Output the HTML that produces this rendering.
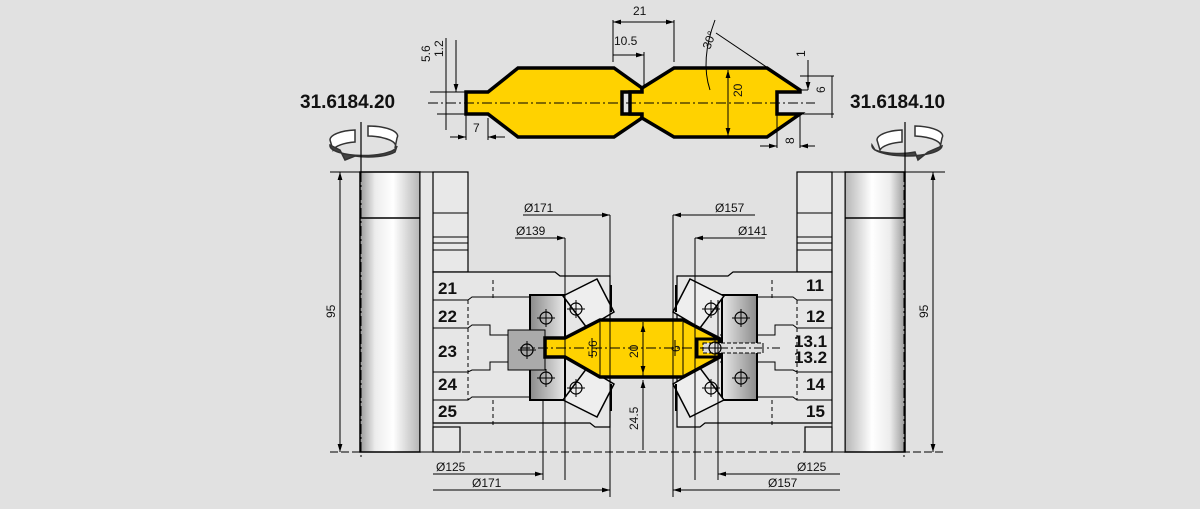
<!DOCTYPE html>
<html><head><meta charset="utf-8"><style>
body{margin:0;background:#e1e1e1}
svg{display:block}
text{font-family:"Liberation Sans",sans-serif;fill:#111}
</style></head><body>
<svg width="1200" height="509" viewBox="0 0 1200 509" xmlns="http://www.w3.org/2000/svg">
<defs>
<linearGradient id="cyl" x1="0" x2="1" y1="0" y2="0">
<stop offset="0" stop-color="#9a9a9a"/><stop offset="0.25" stop-color="#ececec"/><stop offset="0.55" stop-color="#ffffff"/><stop offset="1" stop-color="#b5b5b5"/>
</linearGradient>
<linearGradient id="kn" x1="0" x2="1"><stop offset="0" stop-color="#8a8a8a"/><stop offset="1" stop-color="#e8e8e8"/></linearGradient>
<marker id="a" viewBox="0 0 10 6" refX="10" refY="3" markerWidth="8" markerHeight="5" orient="auto-start-reverse"><path d="M0,0L10,3L0,6z" fill="#000"/></marker>
<g id="cross"><circle r="6" fill="none" stroke="#000" stroke-width="1.2"/><path d="M-9,0H9M0,-9V9" stroke="#000" stroke-width="1"/></g>
<g id="cylhub">
 <rect x="360" y="172" width="60" height="280" fill="url(#cyl)" stroke="#000" stroke-width="1.5"/>
 <line x1="360" y1="218" x2="420" y2="218" stroke="#000" stroke-width="1.5"/>
 <rect x="420" y="172" width="13" height="280" fill="#e6e6e6" stroke="#000" stroke-width="1"/>
 <rect x="433" y="172" width="35" height="100" fill="#e8e8e8" stroke="#000" stroke-width="1.2"/>
 <path d="M433,213H468M433,237H468M433,243H468M433,250H468" stroke="#000" stroke-width="1"/>
 <rect x="433" y="427" width="27" height="25" fill="#e6e6e6" stroke="#000" stroke-width="1.2"/>
</g>
<g id="inner">
 <path d="M433,300H468L472,297H545M433,328H468L472,325H490V335H545M433,372H468L472,370H490V362H545M433,400H468L472,397H545" stroke="#000" stroke-width="1" fill="none"/>
 <path d="M468,300V400M493,280V300M493,400V425" stroke="#000" stroke-width="1" stroke-dasharray="4,3"/>
</g>
<g id="knives">
 <rect x="530" y="295" width="35" height="105" fill="url(#kn)" stroke="#000" stroke-width="2"/>
 <polygon points="563,296 597,279 614,312 587,328" fill="#eee" stroke="#000" stroke-width="1.5"/>
 <polygon points="563,400 597,417 614,384 587,368" fill="#eee" stroke="#000" stroke-width="1.5"/>
 <path d="M611,285V312M611,384V411" stroke="#000" stroke-width="2"/>
 <use href="#cross" x="546" y="318"/><use href="#cross" x="576" y="309"/>
 <use href="#cross" x="546" y="378"/><use href="#cross" x="576" y="388"/>
</g>
</defs>
<rect width="1200" height="509" fill="#e1e1e1"/>

<g stroke="#000" stroke-width="3.5" fill="#ffd200" stroke-linejoin="miter">
 <path d="M466,92H488L518,68H614L642,88V92H622V114H642V118L614,137H518L488,114H466Z"/>
 <path d="M642,88L674,68H767L800,90V92H777V114H800L767,137H674L642,118V114H630V92H642Z"/>
</g>
<path d="M428,103H815" stroke="#000" stroke-width="1" stroke-dasharray="10,3,2,3"/>
<g stroke="#000" stroke-width="1" fill="none">
 <path d="M613,62V20M674,62V20" /><path d="M613,22H674" marker-start="url(#a)" marker-end="url(#a)"/>
 <path d="M644,86V52"/><path d="M613,55H644" marker-end="url(#a)"/>
 <path d="M715,20Q700,60 710,90"/><path d="M716,33L768,68"/>
 <path d="M728,70V136" marker-start="url(#a)" marker-end="url(#a)"/>
 <path d="M437,92H472M437,114H466M430,92H466"/>
 <path d="M446,38V130"/>
 <path d="M456,40V92" marker-end="url(#a)"/>
 <path d="M466,110V140M488,118V140"/><path d="M450,137H466" marker-end="url(#a)"/><path d="M505,137H488" marker-end="url(#a)"/>
 <path d="M800,90H808M800,114H834M800,76H834"/>
 <path d="M808,60V90" marker-end="url(#a)"/>
 <path d="M832,76V118"/>
 <path d="M777,115V148M800,115V148"/><path d="M760,146H777" marker-end="url(#a)"/><path d="M815,146H800" marker-end="url(#a)"/>
</g>
<g font-size="12">
 <text x="633" y="15">21</text>
 <text x="614" y="45">10.5</text>
 <text transform="translate(710,50) rotate(-70)">30°</text>
 <text transform="translate(742,97) rotate(-90)">20</text>
 <text transform="translate(430,62) rotate(-90)">5.6</text>
 <text transform="translate(443,57) rotate(-90)">1.2</text>
 <text x="473" y="132">7</text>
 <text transform="translate(805,57) rotate(-90)">1</text>
 <text transform="translate(825,93) rotate(-90)">6</text>
 <text transform="translate(794,144) rotate(-90)">8</text>
</g>
<text x="300" y="108" font-size="19" font-weight="bold">31.6184.20</text>
<text x="850" y="108" font-size="19" font-weight="bold">31.6184.10</text>

<g fill="#fff" stroke="#333" stroke-width="1.5">
 <path d="M355,130 A28,10 0 0 0 330,140 L333,150 A28,10 0 0 1 355,142 Z"/>
 <path d="M368,126 A30,10 0 0 1 397,138 L395,148 A30,10 0 0 0 368,136Z"/>
 <path d="M330,145 A30,9 0 0 0 397,146 L395,152 A30,9 0 0 1 355,156 L345,160 L340,150 Z" fill="#444"/>
 <path d="M902,130 A28,10 0 0 0 877,140 L880,150 A28,10 0 0 1 902,142 Z"/>
 <path d="M915,126 A30,10 0 0 1 942,138 L940,148 A30,10 0 0 0 915,136Z"/>
 <path d="M872,145 A30,9 0 0 0 942,146 L928,152 L918,160 L915,152 A30,9 0 0 1 875,150 Z" fill="#444"/>
</g>
<path d="M361,122V172M905,122V172" stroke="#000" stroke-width="1.2"/>

<use href="#cylhub"/>
<use href="#cylhub" transform="translate(1265,0) scale(-1,1)"/>
<path d="M433,272H555L560,276H610V427H595L590,423H433Z" fill="#e6e6e6" stroke="#000" stroke-width="1.2"/>
<path d="M832,272H733L728,276H677V427H700L705,423H832Z" fill="#e6e6e6" stroke="#000" stroke-width="1.2"/>
<use href="#inner"/>
<use href="#inner" transform="translate(1265,0) scale(-1,1)"/>
<use href="#knives"/>
<use href="#knives" transform="translate(1287,0) scale(-1,1)"/>
<rect x="508" y="330" width="37" height="40" fill="#aaa" stroke="#000" stroke-width="1"/>
<use href="#cross" x="527" y="350"/>

<path d="M545,338H565L600,320H683L720,339V357L683,377H600L565,357H545Z" fill="#ffd200" stroke="#000" stroke-width="3.5"/>
<path d="M697,339H720V357H697Z" fill="#ffd200" stroke="#000" stroke-width="3"/>
<rect x="703" y="343" width="60" height="10" fill="#ddd" stroke="#000" stroke-width="1" stroke-dasharray="4,2"/>
<use href="#cross" x="715" y="348"/>
<path d="M520,348H780" stroke="#000" stroke-width="1" stroke-dasharray="10,3,2,3"/>
<path d="M361,172V460M904,172V460" stroke="#000" stroke-width="1" stroke-dasharray="10,3,2,3"/>
<g stroke="#000" stroke-width="1" fill="none">
 <path d="M600,322V376M643,322V376M683,322V376"/>
 <path d="M643,324V374" marker-start="url(#a)" marker-end="url(#a)"/>
 <path d="M592,338V358M675,340V356"/>
 <path d="M643,450V380" marker-end="url(#a)"/>
 <path d="M330,452H945" stroke-dasharray="8,3"/>
 <path d="M340,172V452" marker-start="url(#a)" marker-end="url(#a)"/>
 <path d="M933,172V452" marker-start="url(#a)" marker-end="url(#a)"/>
 <path d="M330,172H360M905,172H945"/>
 <path d="M610,215V497M565,238V480"/>
 <path d="M523,215H610" marker-end="url(#a)"/><path d="M515,238H565" marker-end="url(#a)"/>
 <path d="M673,215V497M695,238V480M718,300V480"/>
 <path d="M755,215H673" marker-end="url(#a)"/><path d="M765,238H695" marker-end="url(#a)"/>
 <path d="M433,474H543" marker-end="url(#a)"/><path d="M433,490H610" marker-end="url(#a)"/>
 <path d="M543,400V480"/>
 <path d="M840,474H718" marker-end="url(#a)"/><path d="M840,490H673" marker-end="url(#a)"/>
</g>
<g font-size="12">
 <text x="524" y="212">Ø171</text>
 <text x="516" y="235">Ø139</text>
 <text x="715" y="212">Ø157</text>
 <text x="738" y="235">Ø141</text>
 <text x="436" y="471">Ø125</text>
 <text x="472" y="487">Ø171</text>
 <text x="797" y="471">Ø125</text>
 <text x="768" y="487">Ø157</text>
 <text transform="translate(335,318) rotate(-90)">95</text>
 <text transform="translate(928,318) rotate(-90)">95</text>
 <text transform="translate(638,430) rotate(-90)">24.5</text>
 <text transform="translate(638,358) rotate(-90)">20</text>
 <text transform="translate(597,357) rotate(-90)">5.6</text>
 <text transform="translate(680,352) rotate(-90)">6</text>
</g>
<g font-size="17" font-weight="bold">
 <text x="438" y="294">21</text><text x="438" y="322">22</text><text x="438" y="357">23</text><text x="438" y="390">24</text><text x="438" y="417">25</text>
 <text x="806" y="291">11</text><text x="806" y="322">12</text><text x="794" y="347">13.1</text><text x="794" y="363">13.2</text><text x="806" y="390">14</text><text x="806" y="417">15</text>
</g>
</svg>
</body></html>
